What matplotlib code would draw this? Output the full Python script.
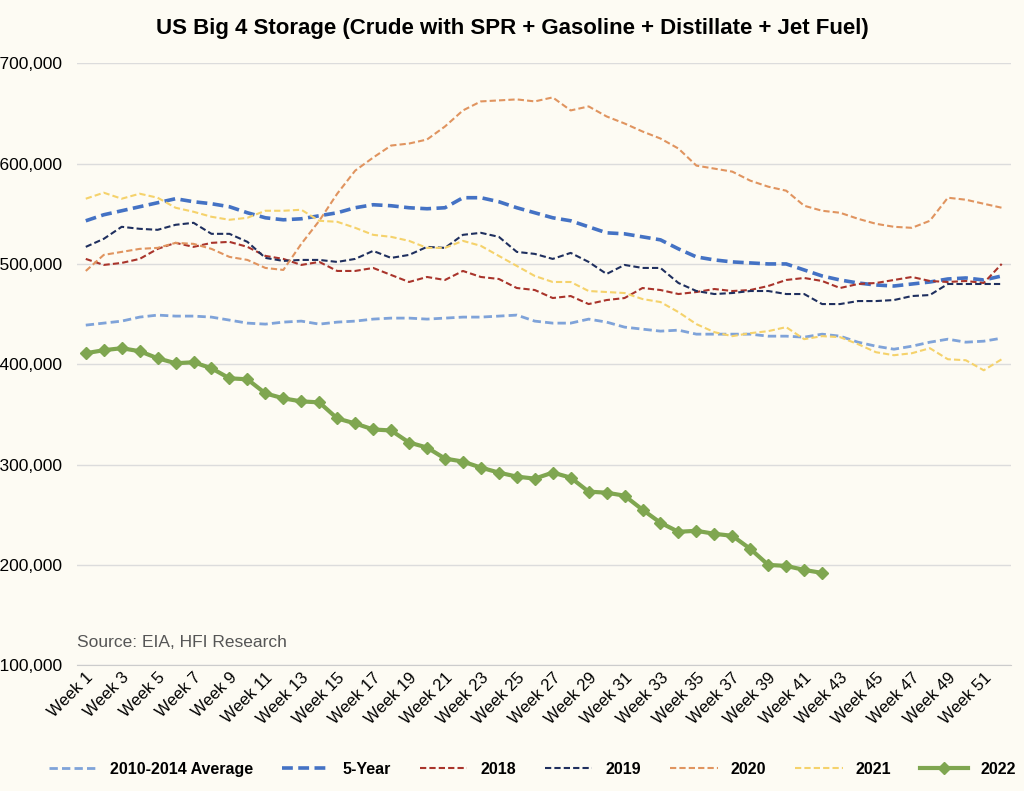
import matplotlib
matplotlib.use("Agg")
import matplotlib.pyplot as plt
from matplotlib.ticker import FuncFormatter

plt.rcParams["font.family"] = ["Liberation Sans", "DejaVu Sans"]

weeks = [f"Week {i}" for i in range(1, 53)]
avg_2010_2014 = [1439,1441,1443,1447,1449,1448,1448,1447,1444,1441,1440,1442,1443,1440,1442,1443,1445,1446,1446,1445,1446,1447,1447,1448,1449,1443,1441,1441,1445,1442,1437,1435,1433,1434,1430,1430,1430,1430,1428,1428,1427,1430,1428,1422,1418,1415,1418,1422,1425,1422,1423,1426]
five_year = [1543,1549,1553,1557,1561,1565,1562,1560,1557,1551,1546,1544,1545,1548,1551,1556,1559,1558,1556,1555,1556,1566,1566,1562,1556,1551,1546,1543,1537,1531,1530,1527,1524,1515,1507,1504,1502,1501,1500,1500,1494,1488,1484,1481,1479,1478,1480,1482,1485,1486,1484,1488]
y2018 = [1505,1499,1501,1505,1515,1521,1517,1521,1522,1517,1508,1505,1499,1502,1493,1493,1496,1489,1482,1487,1484,1493,1487,1485,1476,1474,1466,1468,1460,1464,1466,1476,1474,1470,1472,1475,1473,1474,1478,1484,1486,1483,1476,1480,1481,1484,1487,1483,1482,1483,1481,1500]
y2019 = [1517,1525,1537,1535,1534,1539,1541,1530,1530,1522,1506,1503,1504,1504,1502,1505,1513,1506,1509,1517,1516,1529,1531,1527,1512,1510,1505,1511,1502,1490,1499,1496,1496,1481,1473,1470,1471,1473,1473,1470,1470,1460,1460,1463,1463,1464,1468,1469,1480,1480,1480,1480]
y2020 = [1493,1509,1512,1515,1516,1521,1520,1515,1507,1504,1496,1494,1520,1543,1570,1593,1606,1618,1620,1624,1637,1653,1662,1663,1664,1662,1666,1653,1657,1647,1640,1632,1625,1615,1598,1595,1592,1583,1577,1573,1558,1553,1551,1545,1540,1537,1536,1543,1566,1564,1560,1556]
y2021 = [1565,1571,1565,1570,1566,1556,1552,1547,1544,1546,1553,1553,1554,1543,1542,1536,1529,1527,1523,1516,1516,1523,1518,1508,1498,1488,1482,1482,1473,1472,1471,1465,1462,1452,1440,1432,1428,1431,1433,1437,1425,1428,1427,1420,1412,1409,1411,1416,1405,1404,1394,1405]
y2022 = [1411,1414,1416,1413,1406,1401,1402,1396,1386,1385,1371,1366,1363,1362,1346,1341,1335,1334,1322,1317,1306,1303,1297,1292,1288,1286,1292,1287,1273,1272,1269,1255,1242,1233,1234,1231,1229,1216,1200,1199,1195,1192]

bg = "#fdfbf3"
fig = plt.figure(figsize=(10.24, 7.91), dpi=100, facecolor=bg)
ax = fig.add_axes([0.075, 0.159, 0.912, 0.761], facecolor=bg)

x = list(range(52))
k = lambda v: [a * 1000 for a in v]
ax.plot(x, k(avg_2010_2014), color="#7fa3d9", lw=2, ls=(0, (3, 1.5)), label="2010-2014 Average")
ax.plot(x, k(five_year), color="#4472c4", lw=2.6, ls=(0, (3, 1.5)), label="5-Year")
ax.plot(x, k(y2018), color="#a9342b", lw=1.5, ls=(0, (3, 1.5)), label="2018")
ax.plot(x, k(y2019), color="#1f2f5e", lw=1.5, ls=(0, (3, 1.5)), label="2019")
ax.plot(x, k(y2020), color="#e0945f", lw=1.5, ls=(0, (3, 1.5)), label="2020")
ax.plot(x, k(y2021), color="#f5d26b", lw=1.5, ls=(0, (3, 1.5)), label="2021")
ax.plot(range(len(y2022)), k(y2022), color="#7fa650", lw=3, marker="D", ms=6.5, label="2022")

ax.set_ylim(1100000, 1700000)
ax.set_xlim(-0.5, 51.5)
ax.set_yticks(range(1100000, 1700001, 100000))
ax.yaxis.set_major_formatter(FuncFormatter(lambda v, p: f"{int(v):,}"))
ax.set_xticks(x[::2])
ax.set_xticklabels(weeks[::2], rotation=45, ha="right", rotation_mode="anchor", fontsize=12)
ax.tick_params(axis="y", labelsize=12.5, length=0, pad=10)
ax.tick_params(axis="x", length=0)
ax.grid(axis="y", color="#dcdcdc", lw=1)
ax.set_axisbelow(True)
for s in ["top", "right", "left"]:
    ax.spines[s].set_visible(False)
ax.spines["bottom"].set_color("#cccccc")

ax.text(0.0, 0.03, "Source: EIA, HFI Research", transform=ax.transAxes, fontsize=12.5, color="#555555")
fig.suptitle("US Big 4 Storage (Crude with SPR + Gasoline + Distillate + Jet Fuel)", fontsize=16, fontweight="bold", y=0.977)
fig.legend(loc="lower center", ncol=7, frameon=False, bbox_to_anchor=(0.52, 0.0), prop={"weight": "bold", "size": 11.5}, handlelength=3, columnspacing=1.8)
fig.savefig("out.png", dpi=100, facecolor=bg)
